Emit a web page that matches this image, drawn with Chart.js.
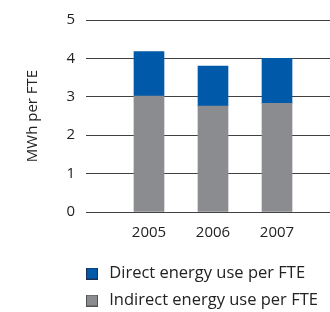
<!DOCTYPE html>
<html>
<head>
<meta charset="utf-8">
<script src="https://cdn.jsdelivr.net/npm/chart.js@4/dist/chart.umd.min.js"></script>
<style>
  html, body { margin: 0; padding: 0; background: #fff; }
  #wrap { width: 330px; height: 312px; position: relative; }
</style>
</head>
<body>
<div id="wrap"><canvas id="c"></canvas></div>
<script>
const categories = [2005, 2006, 2007];
const indirectValues = [3.02, 2.76, 2.83];
const directValues = [1.16, 1.04, 1.17];
const yTicks = [0, 1, 2, 3, 4, 5];
const seriesNames = ['Indirect energy use per FTE', 'Direct energy use per FTE'];

const BLUE = '#005aa9';
const GREY = '#8b8c90';
const FONT = "'Open Sans', sans-serif";
const LEGEND_SIZE = 16.5;
const LEGEND_PAD = 10.5;

function swatch(fill, border) {
  const c = document.createElement('canvas');
  c.width = 15; c.height = 12;
  const x = c.getContext('2d');
  x.fillStyle = fill;
  x.fillRect(0, 0, 12, 12);
  x.strokeStyle = border;
  x.lineWidth = 1;
  x.strokeRect(0.5, 0.5, 11, 11);
  return c;
}
const swatches = [swatch(GREY, '#555555'), swatch(BLUE, '#1a2f55')];

const legendPlace = {
  id: 'legendPlace',
  afterLayout(chart) {
    const lg = chart.legend;
    if (!lg) return;
    lg.left = chart.chartArea.left - LEGEND_PAD;
    lg.top = 273.5 - LEGEND_PAD - LEGEND_SIZE / 2;
  }
};

new Chart(document.getElementById('c'), {
  type: 'bar',
  data: {
    datasets: [
      { label: seriesNames[0], data: categories.map((c, i) => ({x: c, y: indirectValues[i]})),
        backgroundColor: GREY, borderWidth: 0, barThickness: 30, stack: 's' },
      { label: seriesNames[1], data: categories.map((c, i) => ({x: c, y: directValues[i]})),
        backgroundColor: BLUE, borderWidth: 0, barThickness: 30, stack: 's' }
    ]
  },
  plugins: [legendPlace],
  options: {
    responsive: true,
    maintainAspectRatio: false,
    animation: false,
    layout: { padding: { top: 20, left: 20, right: 0, bottom: 0 } },
    scales: {
      x: {
        type: 'linear',
        offset: false,
        stacked: true,
        min: 2004.016,
        max: 2007.828,
        grid: { display: false, drawTicks: false },
        border: { display: false },
        afterFit(s) { s.height = 36; },
        ticks: {
          stepSize: 1,
          includeBounds: false,
          padding: 12,
          color: '#222',
          font: { family: FONT, size: 15 },
          maxRotation: 0,
          callback: (v) => categories.includes(v) ? String(v) : ''
        }
      },
      y: {
        stacked: true,
        min: 0,
        max: 5,
        afterFit(s) { s.width = 66; },
        afterBuildTicks(s) { s.ticks = yTicks.map(v => ({value: v})); },
        grid: { color: '#404040', lineWidth: 1, drawTicks: false },
        border: { display: false },
        ticks: { padding: 11, color: '#222', font: { family: FONT, size: 15 } },
        title: { display: true, text: 'MWh per FTE', color: '#222', font: { family: FONT, size: 15 }, padding: { top: 4, bottom: 4 } }
      }
    },
    plugins: {
      tooltip: { enabled: false },
      legend: {
        position: 'bottom',
        align: 'start',
        reverse: true,
        labels: {
          usePointStyle: true,
          pointStyleWidth: 15,
          boxHeight: 12,
          padding: LEGEND_PAD,
          color: '#222',
          font: { family: FONT, size: LEGEND_SIZE },
          generateLabels(chart) {
            const items = Chart.defaults.plugins.legend.labels.generateLabels(chart);
            items.forEach(it => { it.pointStyle = swatches[it.datasetIndex]; });
            return items;
          }
        }
      }
    }
  }
});
</script>
</body>
</html>
